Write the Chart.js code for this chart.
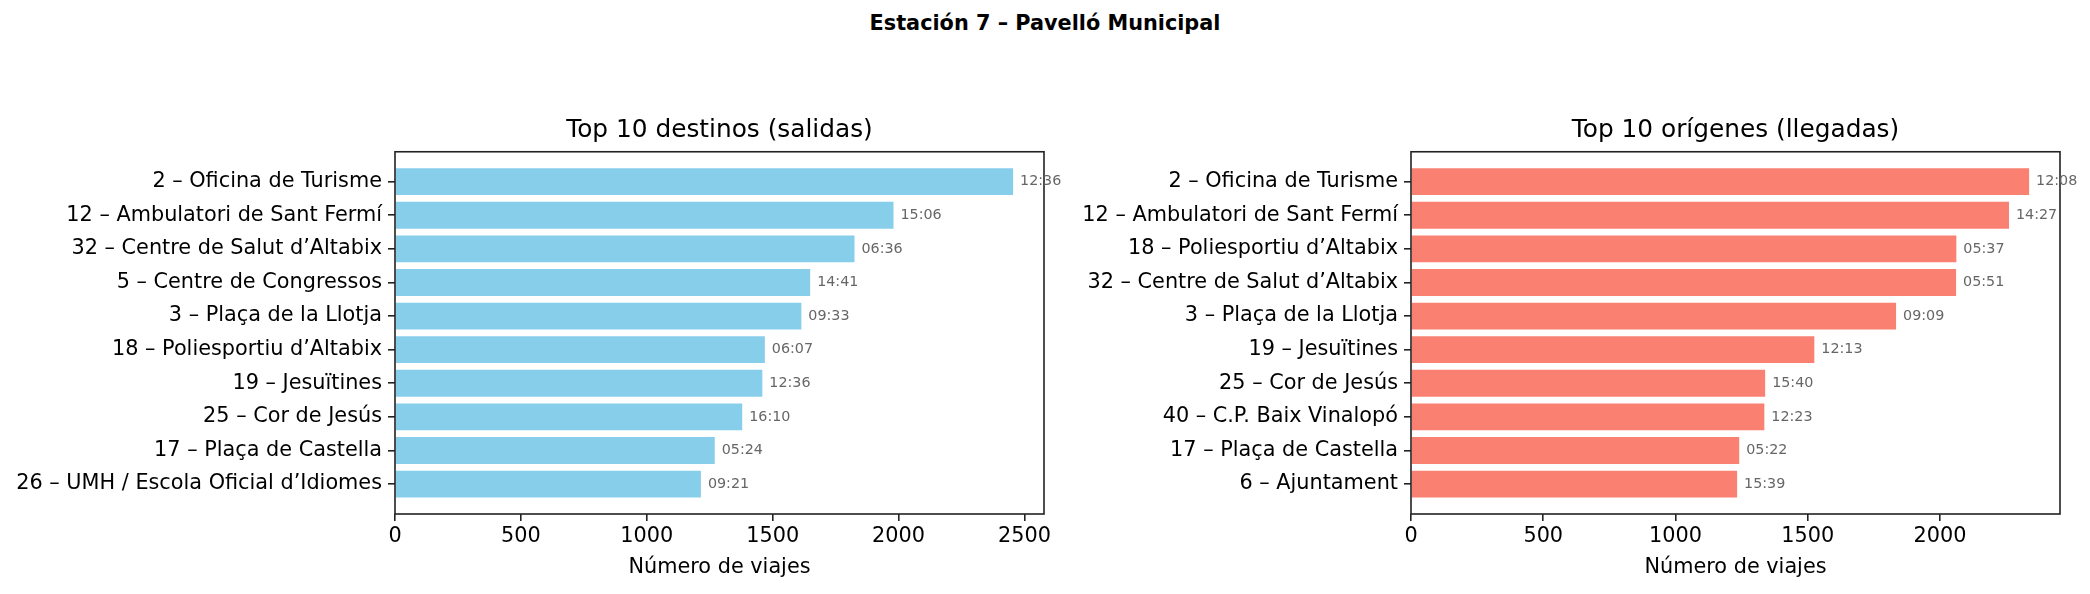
<!DOCTYPE html>
<html>
<head>
<meta charset="utf-8">
<script src="https://cdn.jsdelivr.net/npm/chart.js@4/dist/chart.umd.min.js"></script>
<style>
  body { margin: 0; background: #fff; width: 2090px; height: 594px; position: relative; overflow: hidden; }
  #suptitle { position: absolute; left: 0; width: 2090px; top: 11px; line-height: 26px; text-align: center;
    font: bold 20.8px "DejaVu Sans"; color: #000; }
  canvas { position: absolute; top: 80px; }
  #chartDest { left: 0; }
  #chartOrig { left: 1062px; }
</style>
</head>
<body>
<div id="suptitle">Estación 7 – Pavelló Municipal</div>
<canvas id="chartDest" width="1062" height="514"></canvas>
<canvas id="chartOrig" width="1028" height="514"></canvas>
<script>
////////////////////////////// data //////////////////////////////
const destLabels = [
  '2 – Oficina de Turisme',
  '12 – Ambulatori de Sant Fermí',
  '32 – Centre de Salut d’Altabix',
  '5 – Centre de Congressos',
  '3 – Plaça de la Llotja',
  '18 – Poliesportiu d’Altabix',
  '19 – Jesuïtines',
  '25 – Cor de Jesús',
  '17 – Plaça de Castella',
  '26 – UMH / Escola Oficial d’Idiomes'
];
const destValues = [2455, 1980, 1825, 1649, 1614, 1469, 1459, 1379, 1270, 1215];
const destTimes = ['12:36', '15:06', '06:36', '14:41', '09:33', '06:07', '12:36', '16:10', '05:24', '09:21'];

const origLabels = [
  '2 – Oficina de Turisme',
  '12 – Ambulatori de Sant Fermí',
  '18 – Poliesportiu d’Altabix',
  '32 – Centre de Salut d’Altabix',
  '3 – Plaça de la Llotja',
  '19 – Jesuïtines',
  '25 – Cor de Jesús',
  '40 – C.P. Baix Vinalopó',
  '17 – Plaça de Castella',
  '6 – Ajuntament'
];
const origValues = [2337, 2261, 2062, 2061, 1834, 1525, 1339, 1336, 1241, 1233];
const origTimes = ['12:08', '14:27', '05:37', '05:51', '09:09', '12:13', '15:40', '12:23', '05:22', '15:39'];

const xTicks = [0, 500, 1000, 1500, 2000, 2500];

////////////////////////////// plugins //////////////////////////////
// box around the plot area + the time label at the end of each bar
const frameAndLabels = {
  id: 'frameAndLabels',
  afterDatasetsDraw(chart, args, opts) {
    const ctx = chart.ctx;
    const a = chart.chartArea;
    ctx.save();
    ctx.strokeStyle = '#222';
    ctx.lineWidth = 1.6;
    ctx.strokeRect(a.left, a.top, a.right - a.left, a.bottom - a.top);

    ctx.font = '14.3px "DejaVu Sans"';
    ctx.fillStyle = '#666';
    ctx.textAlign = 'left';
    ctx.textBaseline = 'middle';
    chart.getDatasetMeta(0).data.forEach((bar, i) => {
      ctx.fillText(opts.times[i], bar.x + 7, bar.y);
    });
    ctx.restore();
  }
};

function makeChart(id, title, labels, values, times, color, yWidth, padRight) {
  const xMax = Math.max(...values) * 1.05;
  const points = values.map((v, i) => ({ x: v, y: i }));
  const font = { family: 'DejaVu Sans', size: 20.8 };

  return new Chart(document.getElementById(id), {
    type: 'bar',
    data: {
      datasets: [{
        data: points,
        backgroundColor: color,
        borderWidth: 0,
        barPercentage: 0.8,
        categoryPercentage: 1
      }]
    },
    plugins: [frameAndLabels],
    options: {
      indexAxis: 'y',
      responsive: false,
      animation: false,
      layout: { padding: { left: 0, right: padRight, top: 0, bottom: 0 } },
      plugins: {
        legend: { display: false },
        tooltip: { enabled: false },
        title: {
          display: true,
          text: title,
          fullSize: false,
          color: '#000',
          font: { family: 'DejaVu Sans', size: 24.8, weight: 'normal' },
          padding: { top: 36, bottom: 6 }
        },
        frameAndLabels: { times: times }
      },
      scales: {
        x: {
          type: 'linear',
          min: 0,
          max: xMax,
          offset: false,
          afterFit: s => { s.height = 80; },
          afterBuildTicks: s => { s.ticks = xTicks.filter(t => t <= xMax).map(t => ({ value: t })); },
          border: { display: false },
          grid: { offset: false, drawOnChartArea: false, drawTicks: true, tickLength: 7, color: '#222', lineWidth: 1.6 },
          ticks: { color: '#000', font: font, padding: 3, maxRotation: 0, callback: v => String(v) },
          title: { display: true, text: 'Número de viajes', color: '#000', font: font, padding: { top: 0, bottom: 14 } }
        },
        y: {
          type: 'linear',
          reverse: true,
          min: -0.89,
          max: 9.89,
          offset: false,
          afterFit: s => { s.width = yWidth; },
          afterBuildTicks: s => { s.ticks = labels.map((l, i) => ({ value: i })); },
          border: { display: false },
          grid: { offset: false, drawOnChartArea: false, drawTicks: true, tickLength: 7, color: '#222', lineWidth: 1.6 },
          ticks: { color: '#000', font: font, padding: 6, autoSkip: false, callback: v => labels[v] }
        }
      }
    }
  });
}

makeChart('chartDest', 'Top 10 destinos (salidas)', destLabels, destValues, destTimes, '#87CEEB', 395, 18);
makeChart('chartOrig', 'Top 10 orígenes (llegadas)', origLabels, origValues, origTimes, '#FA8072', 349, 30);
</script>
</body>
</html>
